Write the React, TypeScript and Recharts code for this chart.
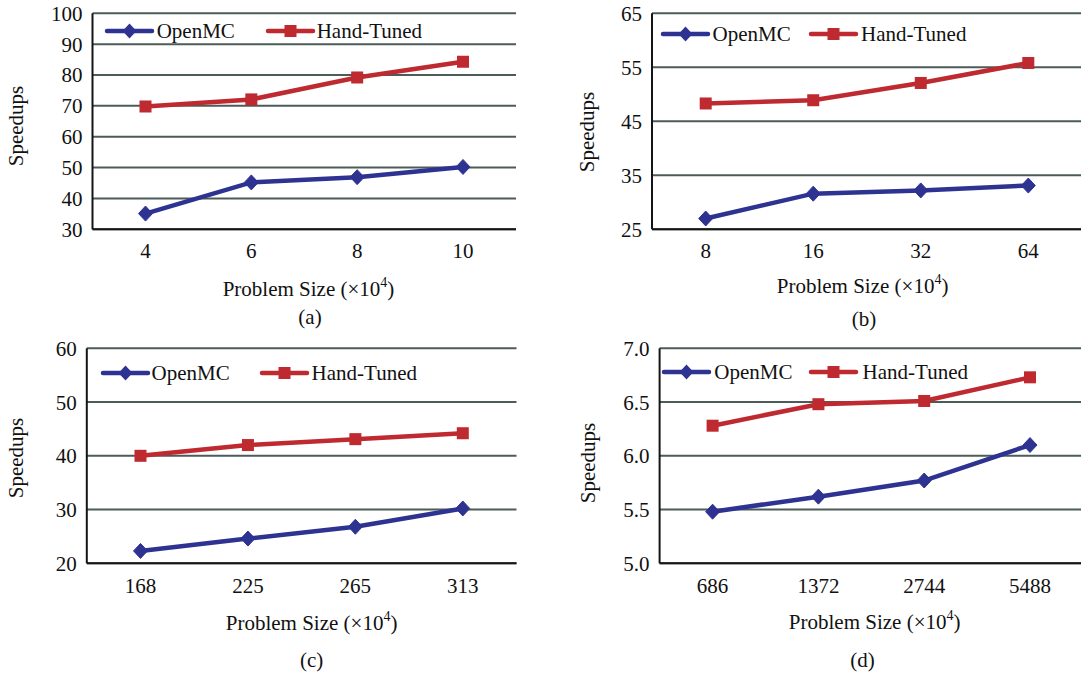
import React from 'react';
import { LineChart, Line, XAxis, YAxis, CartesianGrid } from 'recharts';

// ---------- data ----------
const seriesNames = ['OpenMC', 'Hand-Tuned'];

const sizesA = ['4', '6', '8', '10'];
const openmcA = [35.1, 45.2, 46.9, 50.2];
const handA = [69.8, 72.1, 79.2, 84.3];
const yTicksA = [30, 40, 50, 60, 70, 80, 90, 100];

const sizesB = ['8', '16', '32', '64'];
const openmcB = [27.0, 31.6, 32.2, 33.1];
const handB = [48.3, 48.9, 52.1, 55.8];
const yTicksB = [25, 35, 45, 55, 65];

const sizesC = ['168', '225', '265', '313'];
const openmcC = [22.3, 24.6, 26.8, 30.2];
const handC = [40.0, 42.0, 43.1, 44.2];
const yTicksC = [20, 30, 40, 50, 60];

const sizesD = ['686', '1372', '2744', '5488'];
const openmcD = [5.48, 5.62, 5.77, 6.10];
const handD = [6.28, 6.48, 6.51, 6.73];
const yTicksD = [5.0, 5.5, 6.0, 6.5, 7.0];

const captions = ['(a)', '(b)', '(c)', '(d)'];
const xTitle = 'Problem Size (×10';
const xTitleSup = '4';
const yTitle = 'Speedups';

// ---------- style ----------
const FONT = "'Liberation Serif', 'Times New Roman', serif";
const BLUE = '#2e3392';
const RED = '#be2a2f';
const GRID = '#4d5c58';
const BORDER = '#151515';
const FS = 21;

const buildRows = (sizes: string[], a: number[], b: number[]) =>
  sizes.map((s, i) => ({ size: s, openmc: a[i], hand: b[i] }));

const diamond = (props: any) => {
  const { cx, cy, index } = props;
  if (cx == null || cy == null) return <g key={`d${index}`} />;
  return (
    <path
      key={`d${index}`}
      d={`M${cx},${cy - 7.5} L${cx + 7},${cy} L${cx},${cy + 7.5} L${cx - 7},${cy} Z`}
      fill={BLUE}
      stroke={BLUE}
      strokeWidth={1}
    />
  );
};

const square = (props: any) => {
  const { cx, cy, index } = props;
  if (cx == null || cy == null) return <g key={`s${index}`} />;
  return <rect key={`s${index}`} x={cx - 6} y={cy - 6} width={12} height={12} fill={RED} />;
};

type Panel = {
  left: number; top: number; width: number; height: number;
  margin: { top: number; right: number; bottom: number; left: number };
  pad: number;
  rows: any[];
  domain: [number, number];
  ticks: number[];
  fmt: (v: number) => string;
  tickGap: number;
  legend: { l1: number; t1: number; l2: number; t2: number; y: number };
  yTitle: { x: number; y: number };
  xTitle: { x: number; y: number };
  cap: { x: number; y: number };
};

const panels: Panel[] = [
  {
    left: 0, top: 0, width: 540, height: 335,
    margin: { top: 13.3, right: 24, bottom: 75.7, left: 32.5 },
    pad: 53, rows: buildRows(sizesA, openmcA, handA), domain: [30, 100], ticks: yTicksA,
    fmt: (v) => String(v), tickGap: 8,
    legend: { l1: 106.7, t1: 156.7, l2: 267.5, t2: 316.7, y: 30.5 },
    yTitle: { x: 15.5, y: 126 }, xTitle: { x: 308.5, y: 288.5 }, cap: { x: 310, y: 317 },
  },
  {
    left: 540, top: 0, width: 545, height: 335,
    margin: { top: 13.3, right: 3, bottom: 75.7, left: 52 },
    pad: 53.7, rows: buildRows(sizesB, openmcB, handB), domain: [25, 65], ticks: yTicksB,
    fmt: (v) => String(v), tickGap: 8,
    legend: { l1: 662.5, t1: 712.5, l2: 811, t2: 861, y: 34.3 },
    yTitle: { x: 586.6, y: 131.7 }, xTitle: { x: 862.6, y: 286 }, cap: { x: 864, y: 319 },
  },
  {
    left: 0, top: 330, width: 540, height: 347,
    margin: { top: 18.3, right: 23.5, bottom: 83.7, left: 26.8 },
    pad: 53.7, rows: buildRows(sizesC, openmcC, handC), domain: [20, 60], ticks: yTicksC,
    fmt: (v) => String(v), tickGap: 9,
    legend: { l1: 102.6, t1: 151.5, l2: 261.7, t2: 311.6, y: 373.3 },
    yTitle: { x: 15.5, y: 458.3 }, xTitle: { x: 311.6, y: 623 }, cap: { x: 311.6, y: 660 },
  },
  {
    left: 540, top: 330, width: 545, height: 347,
    margin: { top: 18.3, right: 2, bottom: 83.7, left: 59.6 },
    pad: 53, rows: buildRows(sizesD, openmcD, handD), domain: [5, 7], ticks: yTicksD,
    fmt: (v) => v.toFixed(1), tickGap: 8.5,
    legend: { l1: 663.5, t1: 714.3, l2: 811, t2: 862.6, y: 371.7 },
    yTitle: { x: 588.3, y: 463 }, xTitle: { x: 874.7, y: 621.7 }, cap: { x: 862.6, y: 660 },
  },
];

const LegendItem = ({ x, tx, y, color, kind, name }: any) => (
  <>
    <svg
      style={{ position: 'absolute', left: x, top: y - 10, overflow: 'visible' }}
      width={45}
      height={20}
    >
      <line x1={0} y1={10} x2={45} y2={10} stroke={color} strokeWidth={4.5} strokeLinecap="round" />
      {kind === 'diamond' ? (
        <path d="M22.5,2.5 L29.5,10 L22.5,17.5 L15.5,10 Z" fill={color} />
      ) : (
        <rect x={16.5} y={4} width={12} height={12} fill={color} />
      )}
    </svg>
    <div
      style={{
        position: 'absolute', left: tx, top: y, transform: 'translateY(-50%)',
        fontFamily: FONT, fontSize: FS, lineHeight: 1, whiteSpace: 'nowrap', color: '#111',
      }}
    >
      {name}
    </div>
  </>
);

const Centered = ({ x, y, rotate, children }: any) => (
  <div
    style={{
      position: 'absolute', left: x, top: y,
      transform: `translate(-50%, -50%)${rotate ? ' rotate(-90deg)' : ''}`,
      fontFamily: FONT, fontSize: FS, lineHeight: 1, whiteSpace: 'nowrap', color: '#111',
    }}
  >
    {children}
  </div>
);

export default function App() {
  return (
    <div
      style={{
        position: 'absolute', left: 0, top: 0, width: 1081, height: 677,
        overflow: 'hidden', background: '#fff', fontFamily: FONT,
      }}
    >
      {panels.map((p, i) => (
        <div key={i} style={{ position: 'absolute', left: p.left, top: p.top }}>
          <LineChart width={p.width} height={p.height} data={p.rows} margin={p.margin}>
            <CartesianGrid vertical={false} stroke={GRID} strokeWidth={2} />
            <XAxis
              dataKey="size"
              padding={{ left: p.pad, right: p.pad }}
              tickLine={false}
              axisLine={{ stroke: BORDER, strokeWidth: 2 }}
              tick={{ fontFamily: FONT, fontSize: FS, fill: '#111' }}
              tickMargin={p.tickGap}
              height={30}
              interval={0}
            />
            <XAxis
              xAxisId="top"
              orientation="top"
              dataKey="size"
              tick={false}
              tickLine={false}
              axisLine={{ stroke: BORDER, strokeWidth: 2 }}
              height={0}
            />
            <YAxis
              domain={p.domain}
              ticks={p.ticks}
              tickFormatter={p.fmt}
              tickLine={false}
              axisLine={{ stroke: BORDER, strokeWidth: 2 }}
              tick={{ fontFamily: FONT, fontSize: FS, fill: '#111' }}
              tickMargin={4}
              width={60}
              allowDataOverflow
            />
            <YAxis
              yAxisId="right"
              orientation="right"
              domain={p.domain}
              tick={false}
              tickLine={false}
              axisLine={{ stroke: BORDER, strokeWidth: 2 }}
              width={0}
            />
            <Line
              dataKey="openmc"
              name={seriesNames[0]}
              stroke={BLUE}
              strokeWidth={4.5}
              dot={diamond}
              activeDot={false}
              isAnimationActive={false}
            />
            <Line
              dataKey="hand"
              name={seriesNames[1]}
              stroke={RED}
              strokeWidth={4.5}
              dot={square}
              activeDot={false}
              isAnimationActive={false}
            />
          </LineChart>
        </div>
      ))}
      {panels.map((p, i) => (
        <React.Fragment key={`o${i}`}>
          <LegendItem x={p.legend.l1} tx={p.legend.t1} y={p.legend.y} color={BLUE} kind="diamond" name={seriesNames[0]} />
          <LegendItem x={p.legend.l2} tx={p.legend.t2} y={p.legend.y} color={RED} kind="square" name={seriesNames[1]} />
          <Centered x={p.yTitle.x} y={p.yTitle.y} rotate>
            {yTitle}
          </Centered>
          <Centered x={p.xTitle.x} y={p.xTitle.y}>
            {xTitle}
            <sup style={{ fontSize: 14, verticalAlign: 'top', position: 'relative', top: -3 }}>{xTitleSup}</sup>)
          </Centered>
          <Centered x={p.cap.x} y={p.cap.y}>
            {captions[i]}
          </Centered>
        </React.Fragment>
      ))}
    </div>
  );
}
